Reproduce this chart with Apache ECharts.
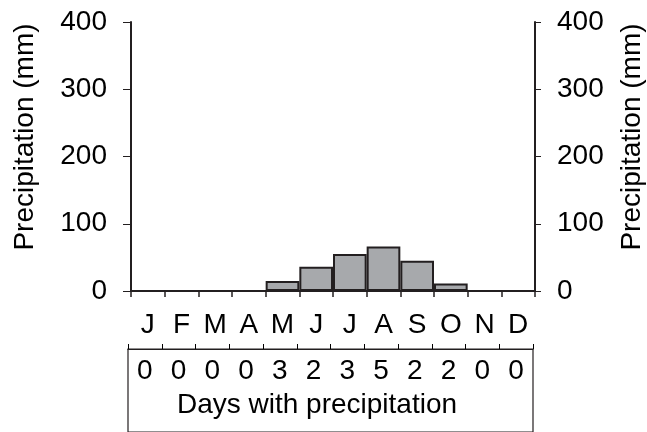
<!DOCTYPE html>
<html>
<head>
<meta charset="utf-8">
<script src="https://cdn.jsdelivr.net/npm/echarts@6/dist/echarts.min.js"></script>
<style>
  html, body { margin: 0; padding: 0; background: #fff; }
  #chart { width: 647px; height: 432px; }
</style>
</head>
<body>
<div id="chart"></div>
<script>
// monthly precipitation (mm) and days with precipitation
const months = ['J', 'F', 'M', 'A', 'M', 'J', 'J', 'A', 'S', 'O', 'N', 'D'];
const precipitation = [0, 0, 0, 0, 15, 36, 55, 66, 45, 11, 0, 0];
const rainDays = [0, 0, 0, 0, 3, 2, 3, 5, 2, 2, 0, 0];
const yTicks = [0, 100, 200, 300, 400];

const FONT = "'Liberation Sans', Arial, Helvetica, sans-serif";
const INK = '#231f20';

const chart = echarts.init(document.getElementById('chart'));

const yAxisBase = {
  type: 'value',
  gridIndex: 0,
  min: yTicks[0],
  max: yTicks[yTicks.length - 1],
  interval: 100,
  splitLine: { show: false },
  axisLine: { show: true, lineStyle: { color: INK, width: 2 } },
  axisTick: { show: true, length: 8, lineStyle: { color: INK, width: 1 } },
  axisLabel: { color: '#000', fontSize: 28, fontFamily: FONT, margin: 24 }
};

const option = {
  animation: false,
  backgroundColor: '#fff',
  grid: [
    { left: 131, right: 112, top: 22, bottom: 141 },
    // the "days with precipitation" box, its bottom edge falls off the page
    { left: 128, right: 114, top: 349, bottom: -3, show: true,
      borderColor: INK, borderWidth: 1.2, backgroundColor: 'transparent' }
  ],
  xAxis: [
    {
      type: 'category',
      gridIndex: 0,
      data: months,
      axisLine: { lineStyle: { color: INK, width: 2 } },
      axisTick: { show: true, length: 6, alignWithLabel: false, lineStyle: { color: INK, width: 1.5 } },
      axisLabel: { color: '#000', fontSize: 28, fontFamily: FONT, margin: 20, interval: 0 }
    },
    {
      type: 'category',
      gridIndex: 1,
      position: 'top',
      data: months,
      axisLine: { show: true, onZero: false, lineStyle: { color: INK, width: 1.2 } },
      axisTick: { show: true, inside: false, interval: 0, length: 5, lineStyle: { color: '#000', width: 1 } },
      axisLabel: {
        inside: true, interval: 0, margin: 8,
        color: '#000', fontSize: 28, fontFamily: FONT,
        formatter: (v, i) => String(rainDays[i])
      }
    }
  ],
  yAxis: [
    Object.assign({}, yAxisBase, { position: 'left' }),
    Object.assign({}, yAxisBase, { position: 'right',
      axisTick: { show: true, length: 6, lineStyle: { color: INK, width: 1 } },
      axisLabel: { color: '#000', fontSize: 28, fontFamily: FONT, margin: 22 } }),
    { type: 'value', gridIndex: 1, show: false, min: 0, max: 1 }
  ],
  series: [
    {
      type: 'bar',
      xAxisIndex: 0,
      yAxisIndex: 0,
      data: precipitation,
      barCategoryGap: 0,
      itemStyle: { color: '#a7a9ac', borderColor: INK, borderWidth: 2 }
    }
  ],
  graphic: [
    {
      type: 'text', x: 25, y: 137, rotation: Math.PI / 2,
      style: { text: 'Precipitation (mm)', fill: '#000', font: '28px ' + FONT,
        align: 'center', verticalAlign: 'middle' }
    },
    {
      type: 'text', x: 632, y: 137, rotation: Math.PI / 2,
      style: { text: 'Precipitation (mm)', fill: '#000', font: '28px ' + FONT,
        align: 'center', verticalAlign: 'middle' }
    },
    {
      type: 'text', x: 317, y: 405,
      style: { text: 'Days with precipitation', fill: '#000', font: '28px ' + FONT,
        align: 'center', verticalAlign: 'middle' }
    }
  ]
};

chart.setOption(option);
</script>
</body>
</html>
